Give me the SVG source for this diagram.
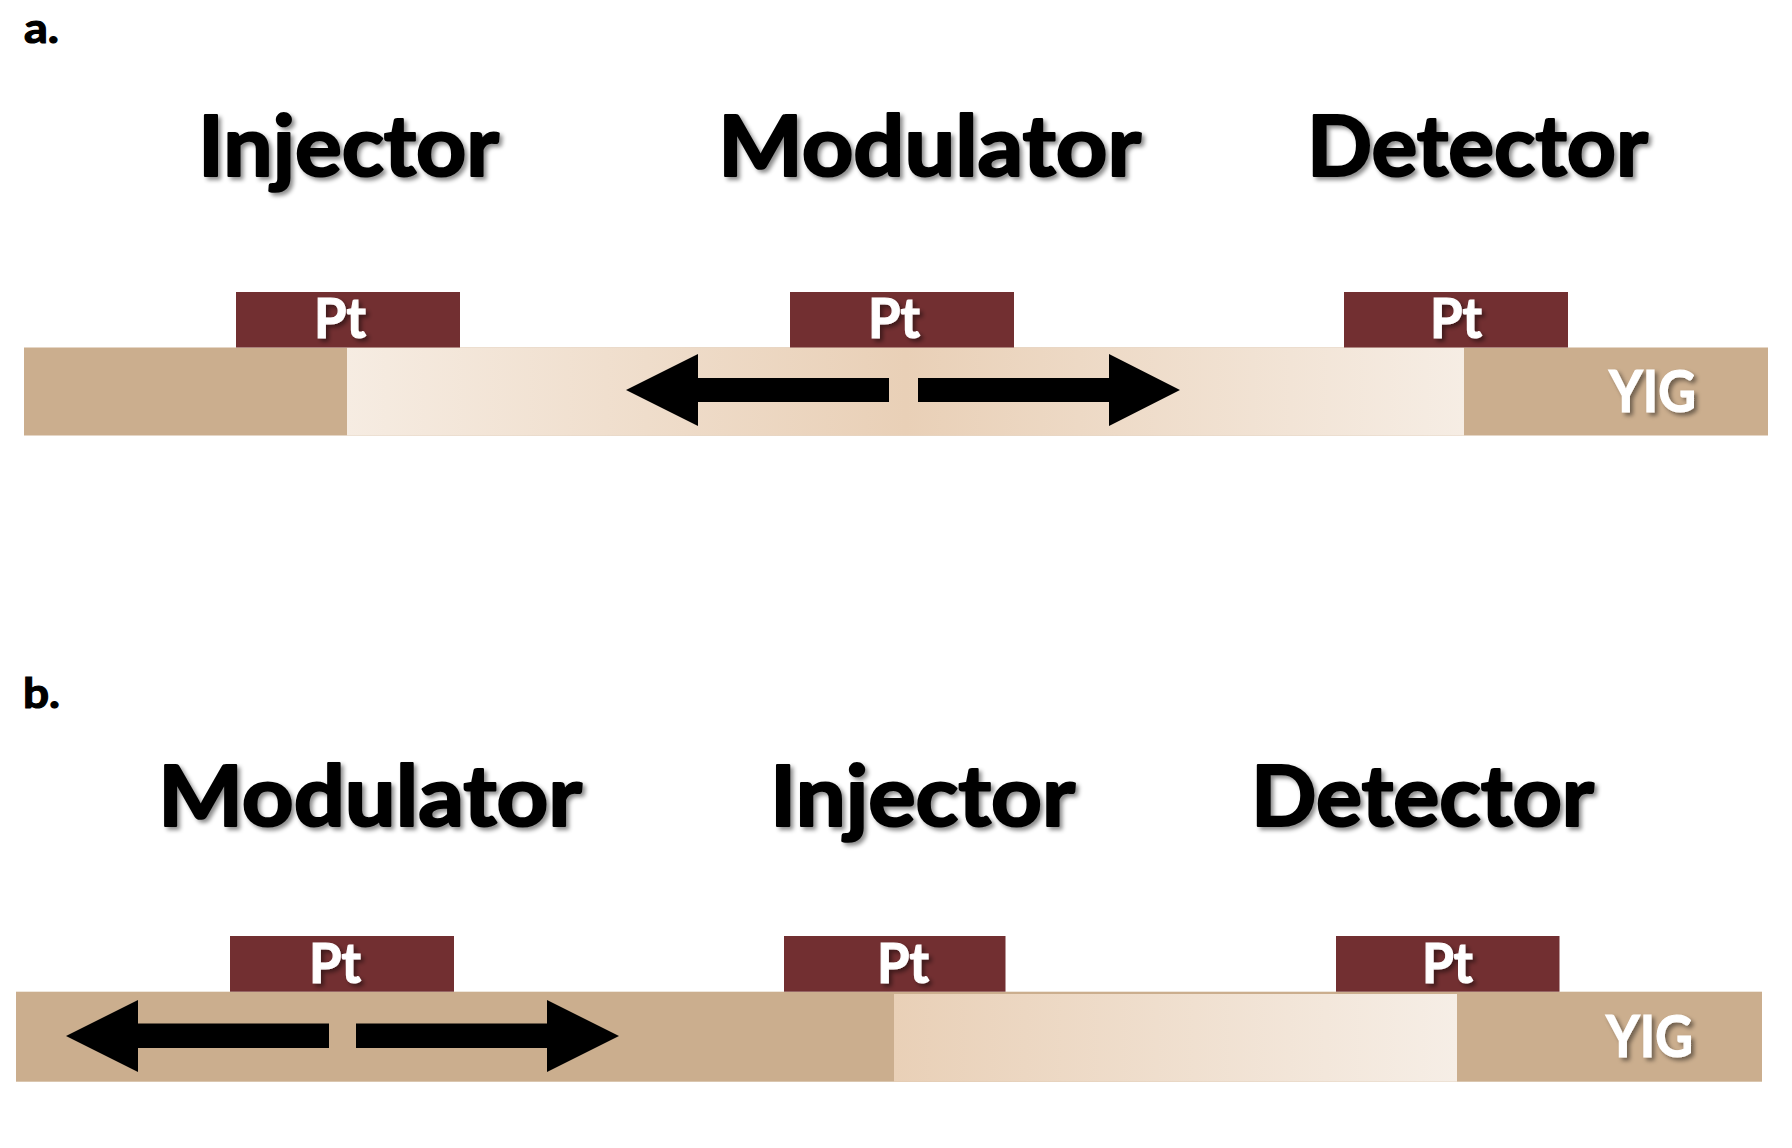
<svg xmlns="http://www.w3.org/2000/svg" width="1792" height="1148" viewBox="0 0 1792 1148">
<defs>
<filter id="sh" x="-10%" y="-20%" width="130%" height="150%">
<feDropShadow dx="3" dy="3" stdDeviation="2" flood-color="#000" flood-opacity="0.45"/>
</filter>
<linearGradient id="ga" gradientUnits="userSpaceOnUse" x1="347" y1="0" x2="1464" y2="0">
<stop offset="0" stop-color="#F6ECE2"/>
<stop offset="0.5" stop-color="#E9D0B7"/>
<stop offset="1" stop-color="#F6EDE4"/>
</linearGradient>
<linearGradient id="gb" gradientUnits="userSpaceOnUse" x1="894" y1="0" x2="1457" y2="0">
<stop offset="0" stop-color="#E9D0B7"/>
<stop offset="1" stop-color="#F6EEE6"/>
</linearGradient>
</defs>
<style>
.t{font-family:Lato,"Open Sans","Liberation Sans",sans-serif;font-weight:700}
.title{font-size:85px;fill:#000;stroke:#000;stroke-width:2.2px;stroke-linejoin:round;filter:url(#sh)}
.lbl{font-size:42px;fill:#000;stroke:#000;stroke-width:1.2px}
.pt{font-size:56px;fill:#fff;stroke:#fff;stroke-width:1.2px;filter:url(#sh)}
.yig{font-size:57px;fill:#fff;stroke:#fff;stroke-width:1.2px;filter:url(#sh)}
.tan{fill:#CBAE8E}
.ptbox{fill:#722F31}
.arr{fill:#000}
</style>
<rect width="1792" height="1148" fill="#fff"/>

<!-- Panel a -->
<text class="t lbl" x="24" y="43" textLength="35" lengthAdjust="spacingAndGlyphs">a.</text>
<g id="a-titles">
<text class="t title" x="198" y="176" textLength="301" lengthAdjust="spacingAndGlyphs">Injector</text>
<text class="t title" x="718" y="176" textLength="423" lengthAdjust="spacingAndGlyphs">Modulator</text>
<text class="t title" x="1307" y="176" textLength="341" lengthAdjust="spacingAndGlyphs">Detector</text>
</g>
<g id="a-yig">
<rect class="tan" x="24" y="347.5" width="1744" height="88"/>
<rect x="347" y="347.5" width="1117" height="88" fill="url(#ga)"/>
<text class="t yig" x="1609" y="412" textLength="87" lengthAdjust="spacingAndGlyphs">YIG</text>
</g>
<g id="a-pt-injector">
<rect class="ptbox" x="236" y="292" width="224" height="55.5"/>
<text class="t pt" x="314" y="338" textLength="52" lengthAdjust="spacingAndGlyphs">Pt</text>
</g>
<g id="a-pt-modulator">
<rect class="ptbox" x="790" y="292" width="224" height="55.5"/>
<text class="t pt" x="868" y="338" textLength="52" lengthAdjust="spacingAndGlyphs">Pt</text>
</g>
<g id="a-pt-detector">
<rect class="ptbox" x="1344" y="292" width="224" height="55.5"/>
<text class="t pt" x="1430" y="338" textLength="52" lengthAdjust="spacingAndGlyphs">Pt</text>
</g>

<!-- Panel b -->
<text class="t lbl" x="23" y="708" textLength="37" lengthAdjust="spacingAndGlyphs">b.</text>
<g id="b-titles">
<text class="t title" x="158" y="826" textLength="424" lengthAdjust="spacingAndGlyphs">Modulator</text>
<text class="t title" x="770" y="826" textLength="305" lengthAdjust="spacingAndGlyphs">Injector</text>
<text class="t title" x="1251" y="826" textLength="343" lengthAdjust="spacingAndGlyphs">Detector</text>
</g>
<g id="b-yig">
<rect class="tan" x="16" y="991.7" width="1746" height="90"/>
<rect x="894" y="994" width="563" height="87.7" fill="url(#gb)"/>
<text class="t yig" x="1606" y="1057" textLength="87" lengthAdjust="spacingAndGlyphs">YIG</text>
</g>
<g id="b-pt-modulator">
<rect class="ptbox" x="230" y="936" width="224" height="55.7"/>
<text class="t pt" x="309" y="983" textLength="52" lengthAdjust="spacingAndGlyphs">Pt</text>
</g>
<g id="b-pt-injector">
<rect class="ptbox" x="784" y="936" width="221.5" height="55.7"/>
<text class="t pt" x="877" y="983" textLength="52" lengthAdjust="spacingAndGlyphs">Pt</text>
</g>
<g id="b-pt-detector">
<rect class="ptbox" x="1336" y="936" width="223.5" height="55.7"/>
<text class="t pt" x="1422" y="983" textLength="51" lengthAdjust="spacingAndGlyphs">Pt</text>
</g>

<g id="connectors">
<polygon class="arr" points="626,390 698,354 698,378 889,378 889,402 698,402 698,426"/>
<polygon class="arr" points="1180,390 1109,354 1109,378 918,378 918,402 1109,402 1109,426"/>
<polygon class="arr" points="66,1036 138,1000 138,1023.5 329,1023.5 329,1048 138,1048 138,1072"/>
<polygon class="arr" points="619,1036 547,1000 547,1023.5 356,1023.5 356,1048 547,1048 547,1072"/>
</g>
</svg>
